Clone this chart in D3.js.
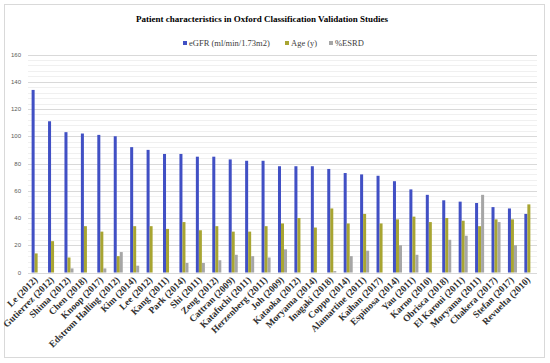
<!DOCTYPE html>
<html lang="en">
<head>
    <meta charset="utf-8">
    <title>Oxford Classification Validation Studies</title>
    <script src="https://d3js.org/d3.v7.min.js"></script>
    <style>
        body, html {
            margin: 0;
            padding: 0;
            background: #fff;
            overflow: hidden;
        }
        .title {
            font: bold 9px "Liberation Serif", "Times New Roman", serif;
            fill: #000;
        }
        .legend text {
            font: 8.5px "Liberation Serif", "Times New Roman", serif;
            fill: #404040;
        }
        .ytick {
            font: 6px "Liberation Sans", Arial, sans-serif;
            fill: #595959;
        }
        .xlabel {
            font: bold 9.5px "Liberation Serif", "Times New Roman", serif;
            fill: #303030;
        }
    </style>
</head>
<body>
    <svg width="550" height="363"></svg>

    <script>
        // study names (x categories)
        var studies = ["Le (2012)", "Gutierrez (2012)", "Shima (2012)", "Chen (2018)", "Knoop (2017)",
            "Edstrom Halling (2012)", "Kim (2014)", "Lee (2012)", "Kang (2011)", "Park (2014)",
            "Shi (2011)", "Zeng (2012)", "Cattran (2009)", "Katafuchi (2011)", "Herzenberg (2011)",
            "Joh (2009)", "Kataoka (2012)", "Moryama (2014)", "Inagaki (2018)", "Coppo (2014)",
            "Alamartine (2011)", "Kaihan (2017)", "Espinosa (2014)", "Yau (2011)", "Karno (2010)",
            "Obrisca (2018)", "El Karoui (2011)", "Moryama (2011)", "Chakera (2017)", "Stefan (2017)",
            "Revuelta (2010)"];

        var egfr = [134, 111, 103, 102, 101, 100, 92, 90, 87, 87, 85, 85, 83, 82, 82, 78, 78, 78, 76, 73,
            72, 71, 67, 61, 57, 53, 52, 51, 48, 47, 43];
        var age = [14, 23, 11, 34, 30, 12, 34, 34, 32, 37, 31, 34, 30, 30, 34, 36, 40, 33, 47, 36,
            43, 36, 39, 41, 37, 40, 38, 34, 39, 39, 50];
        var esrd = [0, 0, 3, 0, 3, 15, 5, 0, 0, 7, 7, 9, 13, 12, 11, 17, 0, 0, 1, 12,
            16, 0, 20, 13, 0, 24, 27, 57, 37, 20, 0];

        var seriesNames = ["eGFR (ml/min/1.73m2)", "Age (y)", "%ESRD"];
        var seriesColors = ["#4150c4", "#a8a532", "#a6a6a6"];
        var yTicks = [0, 20, 40, 60, 80, 100, 120, 140, 160];

        var svg = d3.select("svg");

        // outer chart border
        svg.append("rect")
            .attr("x", 4.5).attr("y", 4.5)
            .attr("width", 540).attr("height", 353)
            .attr("fill", "none")
            .attr("stroke", "#d9d9d9");

        var plotLeft = 28, plotRight = 537, plotTop = 54.5, plotBottom = 272.5;

        var y = d3.scaleLinear().domain([0, 160]).range([plotBottom, plotTop]);

        var x = d3.scaleBand()
            .domain(studies)
            .range([plotLeft, plotRight])
            .paddingInner(0.45)
            .paddingOuter(0.22);

        var x1 = d3.scaleBand()
            .domain(d3.range(seriesNames.length))
            .range([0, x.bandwidth()]);

        // minor gridlines every 4
        svg.append("g").selectAll("line")
            .data(d3.range(4, 160, 4).filter(function (v) { return v % 20 !== 0; }))
            .enter().append("line")
            .attr("x1", plotLeft).attr("x2", plotRight)
            .attr("y1", function (d) { return Math.round(y(d)) + 0.5; })
            .attr("y2", function (d) { return Math.round(y(d)) + 0.5; })
            .attr("stroke", "#f0f0f0");

        // major gridlines
        svg.append("g").selectAll("line")
            .data(yTicks)
            .enter().append("line")
            .attr("x1", plotLeft).attr("x2", plotRight)
            .attr("y1", function (d) { return Math.round(y(d)) + 0.5; })
            .attr("y2", function (d) { return Math.round(y(d)) + 0.5; })
            .attr("stroke", "#d9d9d9");

        svg.append("g").selectAll("text")
            .data(yTicks)
            .enter().append("text")
            .attr("class", "ytick")
            .attr("x", 21)
            .attr("y", function (d) { return y(d) + 2; })
            .attr("text-anchor", "end")
            .text(function (d) { return d; });

        // bars
        var rows = studies.map(function (s, i) { return { name: s, vals: [egfr[i], age[i], esrd[i]] }; });

        var groups = svg.append("g").selectAll("g")
            .data(rows)
            .enter().append("g")
            .attr("transform", function (d) { return "translate(" + x(d.name) + ",0)"; });

        groups.selectAll("rect")
            .data(function (d) { return d.vals.map(function (v, k) { return { k: k, v: v }; }); })
            .enter().append("rect")
            .attr("x", function (d) { return x1(d.k); })
            .attr("width", x1.bandwidth())
            .attr("y", function (d) { return y(d.v); })
            .attr("height", function (d) { return plotBottom - y(d.v); })
            .attr("fill", function (d) { return seriesColors[d.k]; });

        // x labels, rotated
        svg.append("g").selectAll("text")
            .data(studies)
            .enter().append("text")
            .attr("class", "xlabel")
            .attr("text-anchor", "end")
            .attr("transform", function (d) {
                return "translate(" + (x(d) + x.bandwidth() / 2 + 2) + "," + (plotBottom + 8) + ") rotate(-45)";
            })
            .text(function (d) { return d; });

        // title
        svg.append("text")
            .attr("class", "title")
            .attr("x", 262)
            .attr("y", 22)
            .attr("text-anchor", "middle")
            .text("Patient characteristics in Oxford Classification Validation Studies");

        // legend
        var legendX = [183, 285, 329];
        var legend = svg.append("g").attr("class", "legend");
        seriesNames.forEach(function (name, i) {
            legend.append("rect")
                .attr("x", legendX[i]).attr("y", 41)
                .attr("width", 4).attr("height", 4)
                .attr("fill", seriesColors[i]);
            legend.append("text")
                .attr("x", legendX[i] + 6)
                .attr("y", 46)
                .text(name);
        });
    </script>
</body>
</html>
